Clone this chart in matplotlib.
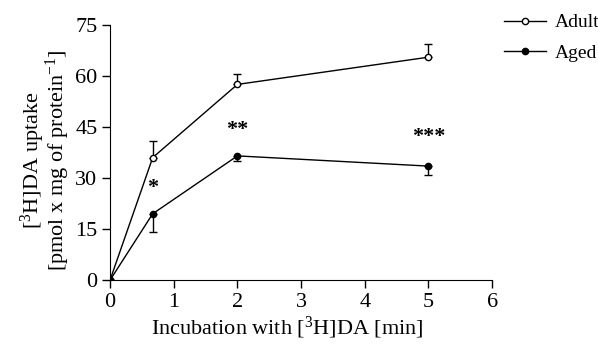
import matplotlib
matplotlib.use("Agg")
import matplotlib.pyplot as plt
from matplotlib.lines import Line2D
import numpy as np

plt.rcParams['font.family'] = ['Liberation Serif', 'DejaVu Serif']
plt.rcParams['mathtext.fontset'] = 'custom'
plt.rcParams['mathtext.rm'] = 'Liberation Serif'
plt.rcParams['mathtext.it'] = 'Liberation Serif:italic'

# data
time_min = [0, 0.67, 2, 5]
adult = [0, 36, 57.5, 65.5]
adult_err = [0, 5, 3, 4]
aged = [0, 19.5, 36.5, 33.5]
aged_err = [0, 5.5, 1.5, 2.5]

star_x = [0.67, 2, 5]
star_y = [27, 44, 42]
star_txt = ["*", "**", "***"]

fig = plt.figure(figsize=(5.98, 3.45), dpi=100)
ax = fig.add_axes([0.184, 0.188, 0.639, 0.74])

# adult: upward error bars, aged: downward error bars
ax.errorbar(time_min, adult, yerr=[np.zeros(len(adult)), adult_err], color='black',
            lw=1, marker='o', ms=4.5, mfc='white', mec='black', mew=1,
            capsize=3, elinewidth=1, capthick=1, zorder=3)
ax.errorbar(time_min, aged, yerr=[aged_err, np.zeros(len(aged))], color='black',
            lw=1, marker='o', ms=4.5, mfc='black', mec='black',
            capsize=3, elinewidth=1, capthick=1, zorder=3)

for x, y, s in zip(star_x, star_y, star_txt):
    ax.text(x, y, s, ha='center', va='center', fontsize=16, fontweight='bold')

ax.set_xlim(0, 6)
ax.set_ylim(0, 75)
ax.set_xticks(range(0, 7))
ax.set_yticks([0, 15, 30, 45, 60, 75])
ax.spines['top'].set_visible(False)
ax.spines['right'].set_visible(False)
ax.tick_params(direction='out', length=6, width=1, labelsize=16, pad=3)
ax.set_xlabel("Incubation with [$^3$H]DA [min]", fontsize=16)
ax.xaxis.set_label_coords(0.463, -0.135)
ax.set_ylabel("[$^3$H]DA uptake\n[pmol x mg of protein$^{-1}$]", fontsize=16,
              linespacing=0.85)
ax.yaxis.set_label_coords(-0.10, 0.47)

handles = [
    Line2D([], [], color='black', lw=1, marker='o', ms=4.5, mfc='white', mec='black'),
    Line2D([], [], color='black', lw=1, marker='o', ms=4.5, mfc='black', mec='black'),
]
fig.legend(handles, ['Adult', 'Aged'], loc='upper left', bbox_to_anchor=(0.823, 0.994),
           frameon=False, fontsize=14, handlelength=2.15, handletextpad=0.45,
           labelspacing=0.65, borderaxespad=0.2)

fig.savefig("out.png", dpi=100)
